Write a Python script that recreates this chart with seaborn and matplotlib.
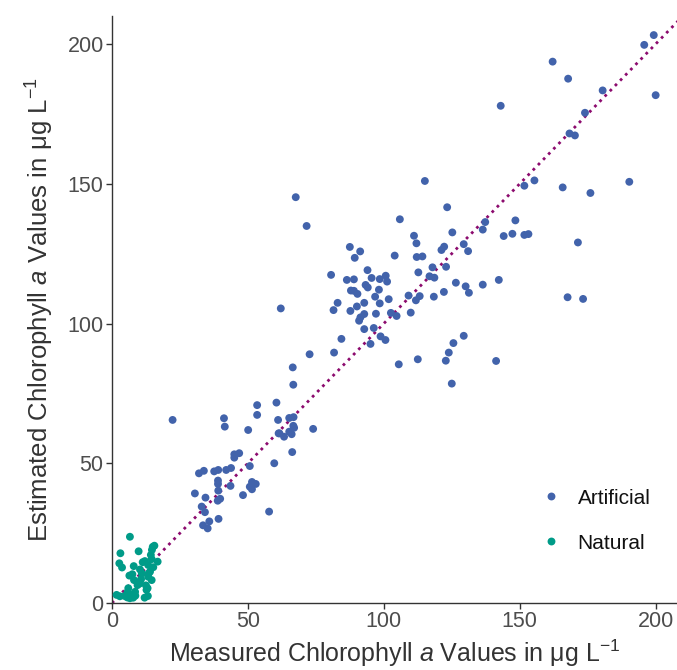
import matplotlib
matplotlib.use("Agg")
import matplotlib.pyplot as plt
import seaborn as sns
import pandas as pd

# Artificial lakes (measured, estimated)
art_x = [199.3, 195.8, 162.1, 167.8, 180.5, 200.0, 143.0, 174.0, 168.3, 170.3,
         155.4, 151.7, 165.8, 176.0, 190.3, 115.1, 123.3, 105.9, 148.4, 137.3,
         136.4, 125.2, 144.1, 147.3, 151.7, 153.2, 111.1, 112.0, 171.4, 129.4,
         122.2, 121.2, 131.0, 112.1, 114.2, 117.9, 122.9, 112.7, 116.8, 118.6,
         126.5, 130.1, 142.3, 136.4, 122.1, 131.3, 109.1, 113.2, 118.4, 111.8,
         167.6, 173.3, 109.9, 129.4, 71.6, 87.5, 91.3, 89.3, 104.0, 94.0,
         80.6, 86.4, 89.0, 95.5, 98.5, 100.7, 101.2, 93.3, 94.1, 98.2,
         87.9, 89.0, 90.3, 96.8, 83.0, 92.8, 101.8, 98.5, 81.5, 87.7,
         90.1, 92.8, 91.4, 90.9, 97.1, 102.6, 104.7, 92.8, 96.3, 84.4,
         98.8, 100.6, 95.1, 72.7, 81.7, 105.5, 112.5, 122.8, 123.9, 125.6,
         141.3, 125.0, 62.1, 66.5, 66.7, 60.5, 53.4, 53.4, 41.2, 61.1,
         65.2, 66.8, 22.3, 41.5, 50.1, 61.3, 45.0, 46.8, 45.0, 50.7,
         59.7, 32.0, 33.8, 37.6, 39.1, 42.0, 43.8, 39.0, 39.0, 43.6,
         39.1, 51.5, 52.9, 50.7, 51.5, 48.2, 30.5, 34.4, 39.8, 38.9,
         33.0, 34.2, 57.8, 35.8, 39.2, 33.5, 35.2, 67.6, 74.0, 66.7,
         67.0, 65.2, 66.1, 63.3, 61.6, 66.3]
art_y = [203.2, 199.7, 193.7, 187.6, 183.4, 181.7, 177.9, 175.4, 168.0, 167.3,
         151.2, 149.3, 148.7, 146.7, 150.7, 151.0, 141.6, 137.3, 136.9, 136.3,
         133.6, 132.6, 131.3, 132.1, 131.7, 132.0, 131.4, 128.7, 129.0, 128.4,
         127.5, 126.3, 125.9, 123.8, 124.0, 120.1, 120.3, 118.3, 116.9, 116.4,
         114.6, 113.3, 115.6, 113.9, 111.3, 111.0, 110.0, 109.8, 109.6, 108.3,
         109.4, 108.8, 103.9, 95.6, 134.9, 127.4, 125.8, 123.5, 124.3, 119.1,
         117.4, 115.6, 115.8, 116.3, 115.9, 117.1, 115.0, 113.8, 112.9, 112.1,
         111.8, 111.7, 110.6, 109.6, 107.4, 107.4, 108.7, 107.2, 104.8, 104.5,
         106.1, 103.4, 102.2, 101.0, 103.5, 103.8, 102.7, 98.0, 98.4, 94.5,
         95.4, 94.1, 92.7, 89.0, 89.6, 85.4, 87.2, 86.7, 89.6, 93.0,
         86.6, 78.5, 105.4, 84.3, 78.1, 71.7, 70.8, 67.3, 66.1, 65.5,
         66.2, 66.5, 65.5, 63.1, 61.9, 60.7, 53.2, 53.6, 52.0, 49.0,
         50.0, 46.4, 47.3, 47.1, 47.6, 47.6, 48.3, 43.8, 42.6, 41.9,
         40.2, 43.3, 42.6, 41.6, 40.7, 38.6, 39.2, 37.7, 37.3, 36.6,
         34.5, 32.5, 32.7, 29.2, 30.1, 27.8, 26.7, 145.2, 62.3, 63.4,
         62.7, 61.3, 60.4, 59.5, 60.7, 54.0]

# Natural lakes (measured, estimated)
nat_x = [6.6, 15.6, 14.7, 3.1, 9.8, 14.3, 2.7, 3.7, 8.0, 11.3,
         12.1, 14.6, 16.8, 13.3, 10.3, 15.2, 14.0, 13.3, 11.0, 7.5,
         6.4, 8.1, 10.7, 9.9, 14.6, 12.5, 13.1, 6.0, 7.2, 8.6,
         1.7, 2.9, 4.7, 5.6, 13.2, 15.0, 9.4, 12.7, 5.8, 8.5,
         6.6, 7.8, 12.0, 10.3, 13.5]
nat_y = [23.7, 20.5, 19.0, 17.8, 18.5, 17.2, 14.2, 12.7, 13.2, 14.6,
         15.0, 15.7, 14.8, 13.6, 12.0, 12.8, 11.2, 9.4, 10.6, 10.3,
         9.8, 8.2, 8.5, 7.4, 8.2, 6.3, 5.3, 5.3, 2.9, 2.6,
         2.9, 2.4, 2.5, 2.0, 2.5, 20.1, 6.4, 4.7, 4.0, 4.0,
         1.7, 1.9, 1.9, 7.0, 10.6]

groups = ["Artificial", "Natural"]
colors = {"Artificial": "#4263AB", "Natural": "#009B88"}

df = pd.DataFrame({
    "measured": art_x + nat_x,
    "estimated": art_y + nat_y,
    "type": ["Artificial"] * len(art_x) + ["Natural"] * len(nat_x),
})

sns.set_style("white")
plt.rcParams["font.family"] = ["Liberation Sans", "DejaVu Sans"]
plt.rcParams["mathtext.fontset"] = "custom"
plt.rcParams["mathtext.rm"] = "Liberation Sans"
plt.rcParams["mathtext.it"] = "Liberation Sans:italic"
plt.rcParams["mathtext.default"] = "regular"

fig = plt.figure(figsize=(6.77, 6.70), dpi=100)
ax = fig.add_axes([0.1654, 0.1, 0.834, 0.876])

xmax, ymax = 207.7, 210
ax.plot([0, 215], [0, 215], linestyle=":", color="#8C0B6E", lw=2.0, zorder=1)

sns.scatterplot(data=df, x="measured", y="estimated", hue="type",
                hue_order=groups, palette=colors, s=32, linewidth=0,
                ax=ax, zorder=3)

ax.set_xlim(0, xmax)
ax.set_ylim(0, ymax)
ax.set_xticks([0, 50, 100, 150, 200])
ax.set_yticks([0, 50, 100, 150, 200])
ax.tick_params(axis="both", labelsize=15.5, colors="#333333", length=4,
               width=1, direction="out", bottom=True, left=True, pad=2)
for lab in ax.get_xticklabels() + ax.get_yticklabels():
    lab.set_color("#4D4D4D")
sns.despine(ax=ax)
for s in ["left", "bottom"]:
    ax.spines[s].set_color("#333333")
    ax.spines[s].set_linewidth(1.0)

ax.set_xlabel(r"Measured Chlorophyll $\mathit{a}$ Values in μg L$^{-1}$",
              fontsize=18, color="#333333", labelpad=4)
ax.set_ylabel(r"Estimated Chlorophyll $\mathit{a}$ Values in μg L$^{-1}$",
              fontsize=18.5, color="#333333", labelpad=8)

leg = ax.legend(title=None, frameon=False, fontsize=15,
                loc="upper left", bbox_to_anchor=(0.7585, 0.195),
                borderaxespad=0, borderpad=0, handlelength=1.0,
                handletextpad=0.8, labelspacing=1.25, markerscale=1.0)
for t in leg.get_texts():
    t.set_color("#111111")

fig.savefig("out.png", dpi=100)
